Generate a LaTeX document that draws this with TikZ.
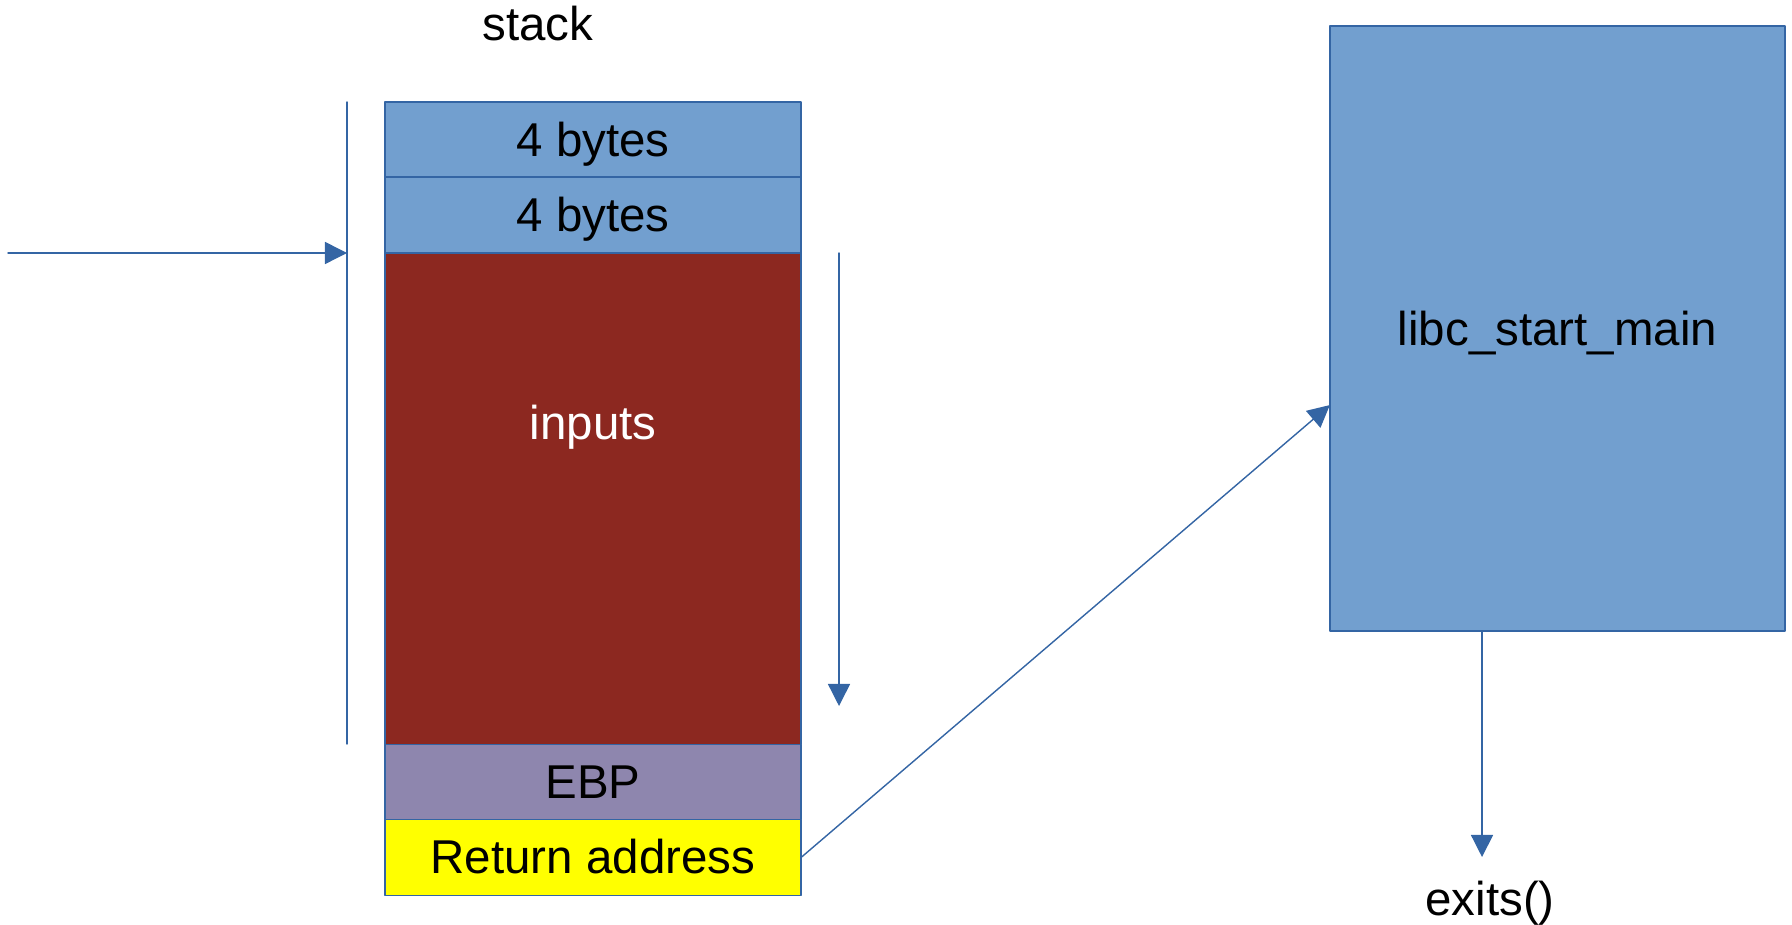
\documentclass[tikz,border=0pt]{standalone}
\usepackage{fontspec}
\setmainfont{Liberation Sans}
\usepackage{tikz}
\usetikzlibrary{arrows.meta,positioning}
\definecolor{lineblue}{HTML}{3465A4}
\definecolor{cellblue}{HTML}{729FCF}
\definecolor{cellred}{HTML}{8C2820}
\definecolor{cellpurple}{HTML}{8E86AE}
\definecolor{cellyellow}{HTML}{FFFF00}
\tikzset{
  every node/.style={font=\fontsize{13.5pt}{16pt}\selectfont,text height=0.43cm,text depth=0.1cm,inner sep=0pt,outer sep=0pt},
  cell/.style={draw=lineblue,line width=0.4pt,minimum width=4.16cm,minimum height=#1},
  flow/.style={draw=lineblue,line width=0.4pt,-{Triangle[length=0.22cm,width=0.22cm]}},
}
\begin{document}
\begin{tikzpicture}[line cap=round,line join=round,x=0.01cm,y=-0.01cm]
                    \useasboundingbox (0,0) rectangle (1792,925);
                    \node (stack) at (538,24) {stack};
                    % stack cells
                    \node[cell=0.75cm,fill=cellblue] (top) at (593,139.5) {4 bytes};
                    \node[cell=0.76cm,fill=cellblue,below=0pt of top] (second) {4 bytes};
                    \node[cell=4.91cm,fill=cellred,below=0pt of second,
                          label={[text=white,yshift=0.755cm]center:inputs}] (inputs) {};
                    \node[cell=0.75cm,fill=cellpurple,below=0pt of inputs] (ebp) {EBP};
                    \node[cell=0.76cm,fill=cellyellow,below=0pt of ebp] (ret) {Return address};
                    \node[cell=6.05cm,minimum width=4.55cm,fill=cellblue] (libc) at (1557.5,328.5) {libc\_start\_main};
                    \node (exits) at (1490,899) {exits()};
                    % marks and arrows
                    \coordinate (bartop) at (347,102);
                    \coordinate (barbot) at (347,744);
                    \coordinate (feed) at (8,253);
                    \coordinate (downtop) at (839,253);
                    \coordinate (downend) at (839,706);
                    \coordinate (exitend) at (1482,857);
                    \draw[draw=lineblue,line width=0.4pt] (bartop) -- (barbot);
                    \draw[flow] (feed) -- (feed -| bartop);
                    \draw[flow] (downtop) -- (downend);
                    \draw[flow] (ret.east) -- ([yshift=-0.765cm]libc.west);
                    \draw[flow] (exitend |- libc.south) -- (exitend);
                \end{tikzpicture}
\end{document}
